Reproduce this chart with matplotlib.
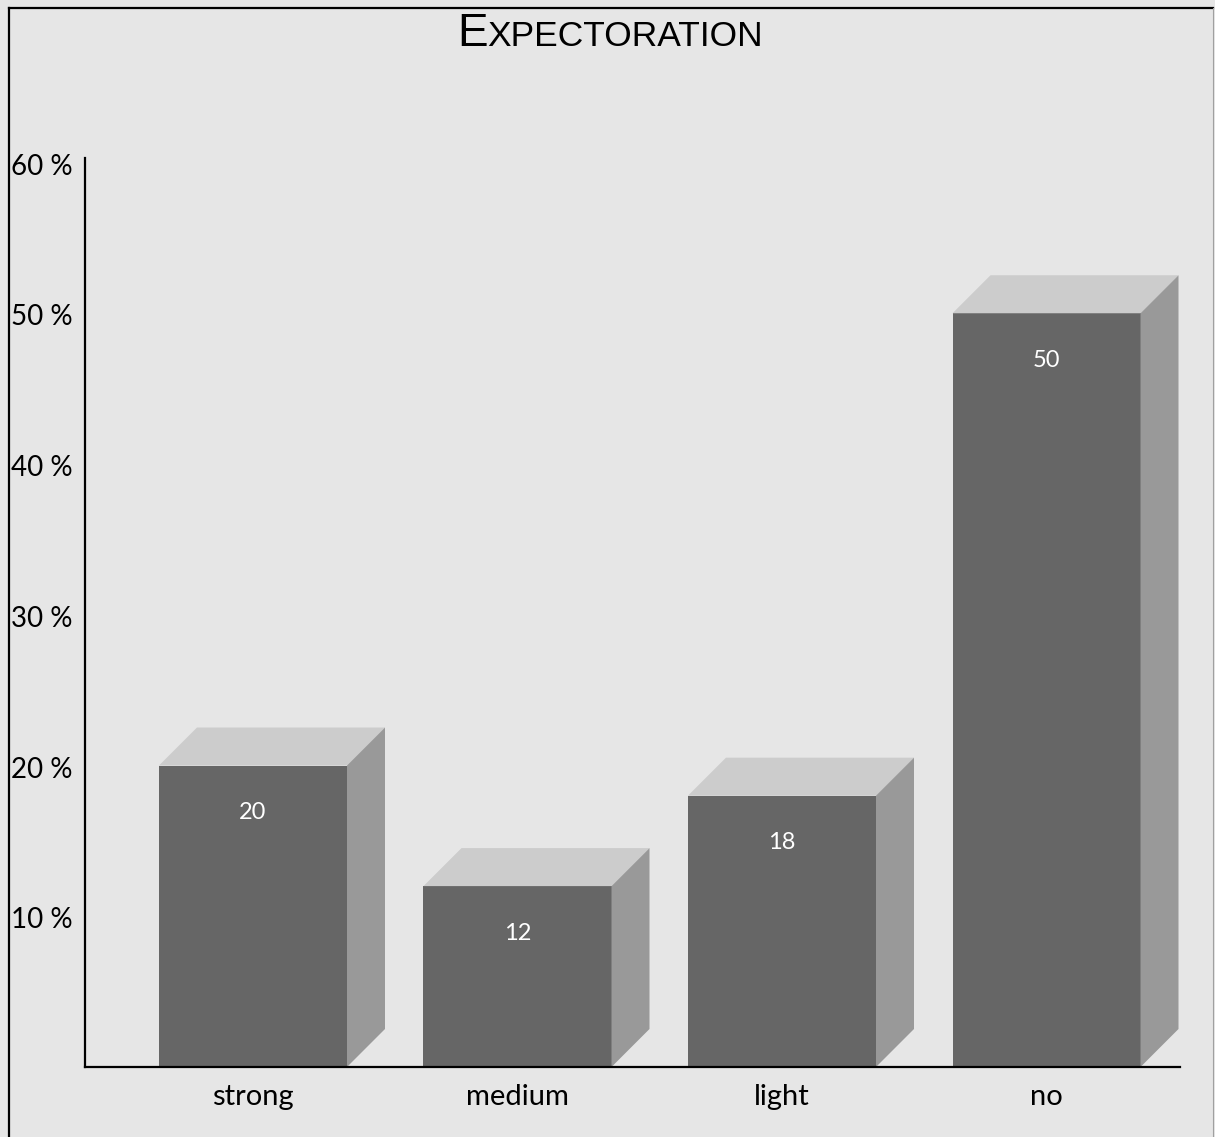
import matplotlib.pyplot as plt
from matplotlib.patches import Polygon
from matplotlib.lines import Line2D
from matplotlib.transforms import blended_transform_factory, offset_copy

# --- Data ---
categories = ['strong', 'medium', 'light', 'no']
values = [20, 12, 18, 50]
y_ticks = [10, 20, 30, 40, 50, 60]
y_tick_labels = ['10 %', '20 %', '30 %', '40 %', '50 %', '60 %']

# --- Style ---
bg = '#e6e6e6'
front_col = '#666666'
top_col = '#cccccc'
side_col = '#999999'
label_font = 'Lato'

W, H = 1215, 1137
fig = plt.figure(figsize=(W / 100, H / 100), dpi=100, facecolor=bg)

# axes box in pixel terms: x 85..1180, y 158..1067 (from top)
ax_left, ax_right, ax_top, ax_bottom = 85, 1180, 158, 1067
ax = fig.add_axes([ax_left / W, 1 - ax_bottom / H,
                   (ax_right - ax_left) / W, (ax_bottom - ax_top) / H])
ax.set_facecolor(bg)

step_px = 264.5
first_center_px = 253
xmin = (ax_left - first_center_px) / step_px
xmax = (ax_right - first_center_px) / step_px
ymax = 60.3
ax.set_xlim(xmin, xmax)
ax.set_ylim(0, ymax)

px_per_x = step_px
px_per_y = (ax_bottom - ax_top) / ymax
bar_w = 188 / px_per_x
dx = 38 / px_per_x
dy = 38 / px_per_y

# --- 3D style bars: front face, top face, side face ---
for i, v in enumerate(values):
    x0 = i - bar_w / 2
    x1 = i + bar_w / 2
    ax.add_patch(Polygon([(x0, 0), (x1, 0), (x1, v), (x0, v)], closed=True,
                         facecolor=front_col, edgecolor='none', zorder=3))
    ax.add_patch(Polygon([(x0, v), (x1, v), (x1 + dx, v + dy), (x0 + dx, v + dy)],
                         closed=True, facecolor=top_col, edgecolor='none', zorder=3))
    ax.add_patch(Polygon([(x1, 0), (x1 + dx, dy), (x1 + dx, v + dy), (x1, v)],
                         closed=True, facecolor=side_col, edgecolor='none', zorder=3))
    # value label inside the front face
    ax.annotate(str(v), xy=(i, v), xytext=(0, -34), textcoords='offset points',
                ha='center', va='center', color='white', fontsize=17,
                family=label_font, zorder=4)

# --- Axes formatting ---
for side in ['top', 'right']:
    ax.spines[side].set_visible(False)
for side in ['left', 'bottom']:
    ax.spines[side].set_linewidth(1.6)
    ax.spines[side].set_color('black')
ax.spines['left'].set_zorder(5)
ax.spines['bottom'].set_zorder(5)

ax.set_xticks(range(len(categories)))
ax.set_xticklabels(categories, fontsize=21, family=label_font)
ax.tick_params(axis='x', length=0, pad=12)
ax.set_yticks([])

# y labels are left aligned near the frame edge
ylab_tr = offset_copy(blended_transform_factory(fig.transFigure, ax.transData),
                      fig=fig, x=0, y=-3, units='points')
for t, lab in zip(y_ticks, y_tick_labels):
    fig.text(11 / W, t, lab, transform=ylab_tr, ha='left', va='center',
             fontsize=20, family=label_font)

# --- Title in small caps ---
t1 = fig.text(457 / W, 1 - 46 / H, 'E', fontsize=33, family='Liberation Sans',
              ha='left', va='baseline')
fig.canvas.draw()
bb = t1.get_window_extent()
fig.text(bb.x1 / W, 1 - 46 / H, 'XPECTORATION', fontsize=25.5,
         family='Liberation Sans', ha='left', va='baseline')

# --- Outer frame ---
fig.add_artist(Line2D([9 / W, 9 / W], [0, 1 - 8 / H], transform=fig.transFigure,
                      color='black', lw=1.6))
fig.add_artist(Line2D([9 / W, 1213 / W], [1 - 8 / H, 1 - 8 / H],
                      transform=fig.transFigure, color='black', lw=1.6))
fig.add_artist(Line2D([1213 / W, 1213 / W], [0, 1 - 8 / H], transform=fig.transFigure,
                      color='#a0a0a0', lw=0.8))

fig.savefig('out.png', dpi=100, facecolor=bg)
